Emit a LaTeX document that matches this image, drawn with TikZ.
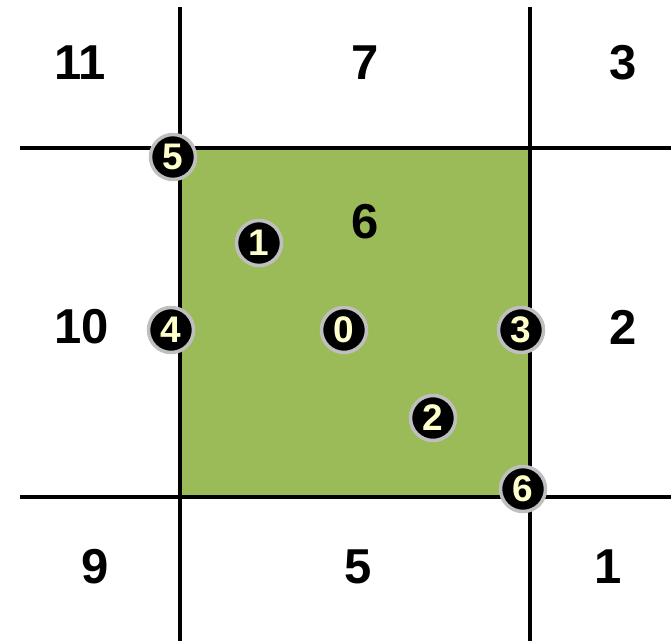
\documentclass[tikz,border=0pt]{standalone}
\usepackage{fontspec}
\setmainfont{Liberation Sans}
\usetikzlibrary{positioning}
\definecolor{leaf}{HTML}{9BBB59}
\definecolor{rim}{HTML}{BFBFBF}
\definecolor{cream}{HTML}{FFFFCC}

\begin{document}
\begin{tikzpicture}[x=1pt, y=-1pt,
  cellnum/.style={font=\fontsize{49}{52}\selectfont\bfseries, inner sep=0pt},
  marker/.style={circle, fill=black, draw=rim, line width=3.5pt,
    minimum size=45pt, inner sep=0pt, text=cream,
    font=\fontsize{37}{40}\selectfont\bfseries},
  gridline/.style={line width=3.2pt}]
  \useasboundingbox (0,0) rectangle (671,641);
  % centre cell
  \fill[leaf] (180,148) rectangle (530,497);
  \draw[gridline] (180,7) -- (180,641);
  \draw[gridline] (530,7) -- (530,641);
  \draw[gridline] (20,148) -- (671,148);
  \draw[gridline] (20,497) -- (671,497);
  % cell numbers
  \node[cellnum] (c11) at (80,63) {11};
  \node[cellnum] (c7) at (365,63) {7};
  \node[cellnum] (c3) at (623,63) {3};
  \node[cellnum] (c10) at (82,327) {10};
  \node[cellnum] (c6) at (365,222) {6};
  \node[cellnum] (c2) at (623,327) {2};
  \node[cellnum] (c9) at (95,567) {9};
  \node[cellnum] (c5) at (358,567) {5};
  \node[cellnum] (c1) at (608,567) {1};
  % points
  \node[marker] (p5) at (173,157) {5};
  \node[marker] (p1) at (259,243) {1};
  \node[marker] (p4) at (171,330) {4};
  \node[marker] (p0) at (344,330) {0};
  \node[marker] (p3) at (521,330) {3};
  \node[marker] (p2) at (433,418) {2};
  \node[marker] (p6) at (523,489) {6};
\end{tikzpicture}
\end{document}
